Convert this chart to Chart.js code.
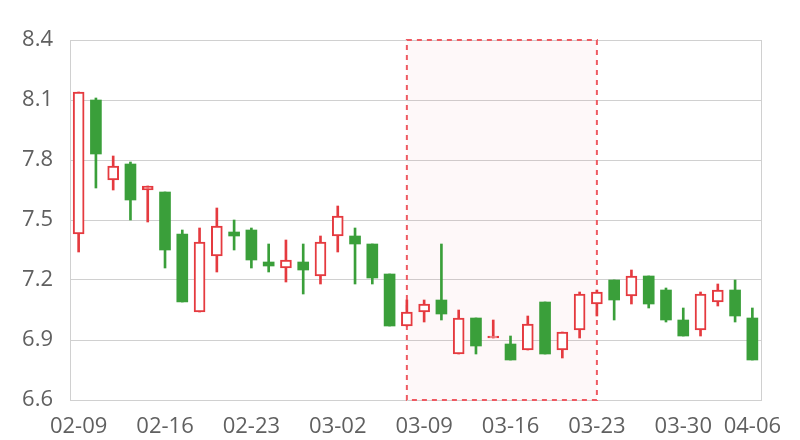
<!DOCTYPE html>
<html>
<head>
<meta charset="utf-8">
<script src="https://cdn.jsdelivr.net/npm/chart.js@4/dist/chart.umd.min.js"></script>
<style>
  html, body { margin: 0; padding: 0; background: #fff; }
  #wrap { width: 800px; height: 440px; position: relative; }
</style>
</head>
<body>
<div id="wrap"><canvas id="kline"></canvas></div>
<script>
// trading days (04-03 skipped)
const dates = [
    '02-09', '02-10', '02-11', '02-12', '02-13',
    '02-16', '02-17', '02-18', '02-19', '02-20',
    '02-23', '02-24', '02-25', '02-26', '02-27',
    '03-02', '03-03', '03-04', '03-05', '03-06',
    '03-09', '03-10', '03-11', '03-12', '03-13',
    '03-16', '03-17', '03-18', '03-19', '03-20',
    '03-23', '03-24', '03-25', '03-26', '03-27',
    '03-30', '03-31', '04-01', '04-02', '04-06'
];
const opens = [
    7.43, 8.10, 7.70, 7.78, 7.65, 7.64, 7.43, 7.04, 7.32, 7.44,
    7.45, 7.29, 7.26, 7.29, 7.22, 7.42, 7.42, 7.38, 7.23, 6.97,
    7.04, 7.10, 6.83, 7.01, 6.91, 6.88, 6.85, 7.09, 6.85, 6.95,
    7.08, 7.20, 7.12, 7.22, 7.15, 7.00, 6.95, 7.09, 7.15, 7.01
];
const highs = [
    8.14, 8.11, 7.82, 7.79, 7.67, 7.64, 7.45, 7.46, 7.56, 7.50,
    7.46, 7.38, 7.40, 7.38, 7.42, 7.57, 7.46, 7.38, 7.23, 7.10,
    7.10, 7.38, 7.05, 7.01, 7.00, 6.92, 7.02, 7.09, 6.94, 7.14,
    7.15, 7.20, 7.25, 7.22, 7.16, 7.06, 7.14, 7.18, 7.20, 7.06
];
const lows = [
    7.34, 7.66, 7.65, 7.50, 7.49, 7.26, 7.09, 7.04, 7.24, 7.35,
    7.26, 7.24, 7.19, 7.13, 7.18, 7.34, 7.18, 7.18, 6.97, 6.97,
    6.99, 7.00, 6.83, 6.83, 6.91, 6.80, 6.85, 6.83, 6.81, 6.91,
    7.02, 7.00, 7.08, 7.06, 6.99, 6.92, 6.92, 7.07, 6.99, 6.80
];
const closes = [
    8.14, 7.83, 7.77, 7.60, 7.67, 7.35, 7.09, 7.39, 7.47, 7.42,
    7.30, 7.27, 7.30, 7.25, 7.39, 7.52, 7.38, 7.21, 6.97, 7.04,
    7.08, 7.03, 7.01, 6.87, 6.92, 6.80, 6.98, 6.83, 6.94, 7.13,
    7.14, 7.10, 7.22, 7.08, 7.00, 6.92, 7.13, 7.15, 7.02, 6.80
];
const tickLabels = ['02-09', '02-16', '02-23', '03-02', '03-09', '03-16', '03-23', '03-30', '04-06'];

// highlighted range (from / to date)
const boxFrom = '03-06';
const boxTo = '03-23';

const RED = '#e53a3f';
const GREEN = '#3a9f3a';
const isUp = (i) => closes[i] >= opens[i];

// box behind the candles
const boxPlugin = {
    id: 'boxPlugin',
    beforeDatasetsDraw(chart) {
        const { ctx, scales: { x, y } } = chart;
        const x1 = x.getPixelForValue(dates.indexOf(boxFrom));
        const x2 = x.getPixelForValue(dates.indexOf(boxTo));
        const y1 = y.getPixelForValue(y.max);
        const y2 = y.getPixelForValue(y.min);
        ctx.save();
        ctx.fillStyle = 'rgba(240, 80, 90, 0.04)';
        ctx.fillRect(x1, y1, x2 - x1, y2 - y1);
        ctx.strokeStyle = '#ef5a62';
        ctx.lineWidth = 2;
        ctx.setLineDash([5, 5]);
        ctx.strokeRect(x1, y1, x2 - x1, y2 - y1);
        ctx.restore();
    },
    afterDraw(chart) {
        // right frame line
        const { ctx, chartArea } = chart;
        ctx.save();
        ctx.strokeStyle = '#d0d0d0';
        ctx.lineWidth = 1;
        ctx.beginPath();
        ctx.moveTo(Math.round(chartArea.right) + 0.5, chartArea.top);
        ctx.lineTo(Math.round(chartArea.right) + 0.5, chartArea.bottom);
        ctx.stroke();
        ctx.restore();
    }
};

new Chart(document.getElementById('kline'), {
    type: 'bar',
    data: {
        labels: dates,
        datasets: [{
            label: 'body',
            order: 0,
            grouped: false,
            data: dates.map((d, i) => [opens[i], closes[i]]),
            backgroundColor: (c) => isUp(c.dataIndex) ? '#ffffff' : GREEN,
            borderColor: (c) => isUp(c.dataIndex) ? RED : GREEN,
            borderWidth: (c) => isUp(c.dataIndex) ? 2 : 0,
            borderSkipped: false,
            barThickness: 11,
        }, {
            label: 'wick',
            order: 1,
            grouped: false,
            data: dates.map((d, i) => [lows[i], highs[i]]),
            backgroundColor: (c) => isUp(c.dataIndex) ? RED : GREEN,
            borderWidth: 0,
            barThickness: 2,
        }]
    },
    options: {
        responsive: true, maintainAspectRatio: false,
        animation: false,
        layout: { padding: { top: 40, right: 39, left: 0, bottom: 0 } },
        plugins: { legend: { display: false }, tooltip: { enabled: false } },
        scales: {
            x: {
                grid: { display: false, drawTicks: false },
                border: { display: true, color: '#d0d0d0', width: 1 },
                ticks: {
                    autoSkip: false, maxRotation: 0, padding: 14,
                    color: '#606060', font: { family: '"Open Sans"', size: 22 },
                    callback: (v, i) => tickLabels.includes(dates[i]) ? dates[i] : ''
                },
                afterFit: (s) => { s.height = 40; }
            },
            y: {
                min: 6.6, max: 8.4,
                grid: { color: '#d0d0d0', lineWidth: 1, drawTicks: false },
                border: { display: true, color: '#d0d0d0', width: 1 },
                ticks: {
                    stepSize: 0.3, padding: 17,
                    color: '#606060', font: { family: '"Open Sans"', size: 22 },
                    callback: (v) => Number(v).toFixed(1)
                },
                afterFit: (s) => { s.width = 70; }
            }
        }
    },
    plugins: [boxPlugin]
});
</script>
</body>
</html>
